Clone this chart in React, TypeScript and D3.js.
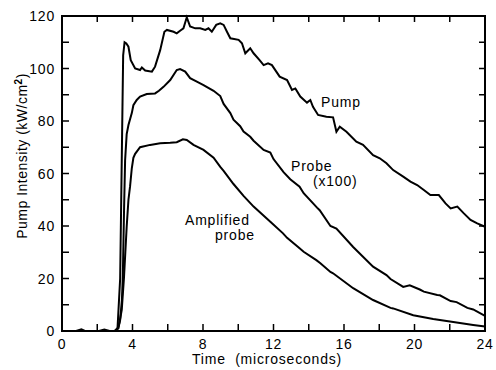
import React from "react";
import * as d3 from "d3";

const xTicksMajor = [0, 4, 8, 12, 16, 20, 24];
const xTicksMinor = [2, 4, 6, 8, 10, 12, 14, 16, 18, 20, 22];
const yTicksMajor = [0, 20, 40, 60, 80, 100, 120];
const yTicksMinor = [10, 20, 30, 40, 50, 60, 70, 80, 90, 100, 110];

const pump: [number, number][] = [
  [0, 0], [0.8, 0], [1.1, 0.6], [1.3, 0], [2.1, 0], [2.4, 0.6], [2.7, 0], [3.0, 0],
  [3.15, 1], [3.3, 20], [3.4, 70], [3.47, 105], [3.55, 110], [3.65, 109.5], [3.77, 108.3],
  [3.9, 103.2], [4.15, 100], [4.43, 99.4], [4.53, 100.4], [4.72, 99.2], [5.1, 98.8],
  [5.28, 100.7], [5.57, 107], [5.81, 114], [5.95, 114.7], [6.33, 114], [6.51, 113.4],
  [6.7, 114.4], [6.89, 115.3], [7.08, 119.5], [7.27, 116], [7.56, 115.3], [7.84, 115.3],
  [8.13, 114.7], [8.31, 115.3], [8.5, 114], [8.75, 116.6], [8.98, 117.2], [9.17, 116.6],
  [9.36, 114], [9.55, 111.5], [10.02, 110.9], [10.21, 109.6], [10.4, 105.8], [10.68, 107.7],
  [10.87, 105.8], [11.21, 103.2], [11.44, 101.3], [11.69, 102], [11.91, 101.3], [12.35, 96.9],
  [12.77, 95.6], [13.05, 91.8], [13.24, 92.4], [13.52, 89.3], [13.9, 87], [14.09, 88],
  [14.24, 85.4], [14.53, 82.3], [15.0, 81.6], [15.38, 81.4], [15.57, 75.9], [15.76, 77.8],
  [16.14, 75.9], [16.7, 72.1], [17.08, 70.9], [17.65, 67], [18.03, 65.8], [18.41, 63.9],
  [18.79, 61.3], [19.36, 58.8], [19.77, 56.9], [20.15, 55.6], [20.53, 53.7], [20.9, 51.8],
  [21.38, 51.8], [21.76, 48.6], [22.05, 46.7], [22.43, 47.4], [22.8, 44.8], [23.18, 42.3],
  [23.56, 41], [24.0, 39.7],
];

const probe: [number, number][] = [
  [3.0, 0], [3.2, 1.5], [3.3, 4.2], [3.4, 12], [3.45, 20.7], [3.52, 46], [3.58, 65],
  [3.67, 75], [3.77, 78.5], [3.96, 83], [4.05, 86], [4.24, 88], [4.43, 89.3], [4.81, 90.3],
  [5.28, 90.5], [5.5, 91.5], [5.76, 93], [6.14, 95.6], [6.51, 99.4], [6.7, 99.8], [6.99, 98.8],
  [7.27, 96.3], [7.65, 95], [8.03, 93.7], [8.6, 91.5], [8.98, 89.5], [9.17, 86.5], [9.55, 83],
  [9.73, 80.5], [10.11, 78], [10.3, 76], [10.68, 74], [10.87, 72.5], [11.44, 69], [11.82, 68],
  [12.0, 65.5], [12.57, 60.5], [12.95, 57.8], [13.48, 55], [13.71, 52.5], [14.47, 47],
  [14.62, 46], [15.23, 40], [15.57, 39], [16.52, 32], [17.65, 24.5], [18.41, 21.3],
  [18.64, 19.8], [19.36, 16.8], [19.73, 17.4], [20.3, 15.8], [20.53, 15], [21.29, 13.7],
  [21.44, 13.6], [22.05, 11.4], [22.39, 11], [23.0, 8.8], [23.33, 8.2], [24.0, 5.8],
];

const amplified: [number, number][] = [
  [3.0, 0], [3.2, 1], [3.39, 8], [3.52, 20.7], [3.67, 39.7], [3.77, 50], [3.86, 55],
  [3.96, 62], [4.05, 66], [4.15, 67.5], [4.43, 70], [5.0, 70.9], [5.57, 71.5], [6.14, 71.7],
  [6.51, 71.9], [6.86, 73], [7.08, 72.8], [7.46, 70.9], [8.03, 69], [8.6, 66], [8.98, 62.5],
  [9.17, 61], [9.73, 56], [10.3, 51.5], [10.87, 47.4], [11.4, 44.2], [11.82, 41.6],
  [12.54, 37.2], [12.77, 35.5], [13.48, 31.5], [13.71, 30.2], [14.43, 27], [14.66, 25.8],
  [15.23, 22.5], [15.38, 22], [16.52, 16.3], [17.65, 11.8], [18.64, 8.8], [18.79, 8.6],
  [19.93, 6], [21.06, 4.6], [22.2, 3.4], [23.33, 2.3], [24.0, 1.7],
];

const W = 496;
const H = 370;
const L = 62, R = 485, T = 16, B = 331;
const font = "'Liberation Sans', Arial, sans-serif";

export default function App() {
  const x = d3.scaleLinear().domain([0, 24]).range([L, R]);
  const y = d3.scaleLinear().domain([0, 120]).range([B, T]);
  const line = d3.line<[number, number]>().x((d) => x(d[0])).y((d) => y(d[1]));
  const tl = 7;
  const ls = 0.8;
  return (
    <svg width={W} height={H} style={{ position: "absolute", left: 0, top: 0, background: "#fff" }}>
      <rect x={L} y={T} width={R - L} height={B - T} fill="none" stroke="#000" strokeWidth={2} />
      {xTicksMinor.map((t) => (
        <g key={"xt" + t}>
          <line x1={x(t)} x2={x(t)} y1={B} y2={B - tl} stroke="#000" strokeWidth={1.5} />
          <line x1={x(t)} x2={x(t)} y1={T} y2={T + tl - 1} stroke="#000" strokeWidth={1.5} />
        </g>
      ))}
      {yTicksMinor.map((v) => (
        <g key={"yt" + v}>
          <line x1={L} x2={L + tl} y1={y(v)} y2={y(v)} stroke="#000" strokeWidth={1.5} />
          <line x1={R} x2={R - tl + 1} y1={y(v)} y2={y(v)} stroke="#000" strokeWidth={1.5} />
        </g>
      ))}
      {xTicksMajor.map((t) => (
        <text key={"xl" + t} x={x(t)} y={349} textAnchor="middle" fontFamily={font} fontSize={14} letterSpacing={ls}>
          {t}
        </text>
      ))}
      {yTicksMajor.map((v) => (
        <text key={"yl" + v} x={55} y={y(v) + 5} textAnchor="end" fontFamily={font} fontSize={14} letterSpacing={ls}>
          {v}
        </text>
      ))}
      <text x={267} y={364} textAnchor="middle" fontFamily={font} fontSize={14} letterSpacing={ls} style={{ whiteSpace: "pre" }}>
        {"Time  (microseconds)"}
      </text>
      <text
        transform={`translate(27,156) rotate(-90)`}
        textAnchor="middle"
        fontFamily={font}
        fontSize={14}
        letterSpacing={0.5}
      >
        Pump Intensity (kW/cm
        <tspan dy={-5} fontSize={10} fontWeight="bold">2</tspan>
        <tspan dy={5}>)</tspan>
      </text>
      <path d={line(pump) || ""} fill="none" stroke="#000" strokeWidth={2} />
      <path d={line(probe) || ""} fill="none" stroke="#000" strokeWidth={2} />
      <path d={line(amplified) || ""} fill="none" stroke="#000" strokeWidth={2} />
      <text x={321} y={107} fontFamily={font} fontSize={14} letterSpacing={ls}>Pump</text>
      <text x={291} y={171} fontFamily={font} fontSize={14} letterSpacing={ls}>Probe</text>
      <text x={313} y={186} fontFamily={font} fontSize={14} letterSpacing={ls}>(x100)</text>
      <text x={185} y={225} fontFamily={font} fontSize={14} letterSpacing={ls}>Amplified</text>
      <text x={215} y={240} fontFamily={font} fontSize={14} letterSpacing={ls}>probe</text>
    </svg>
  );
}
